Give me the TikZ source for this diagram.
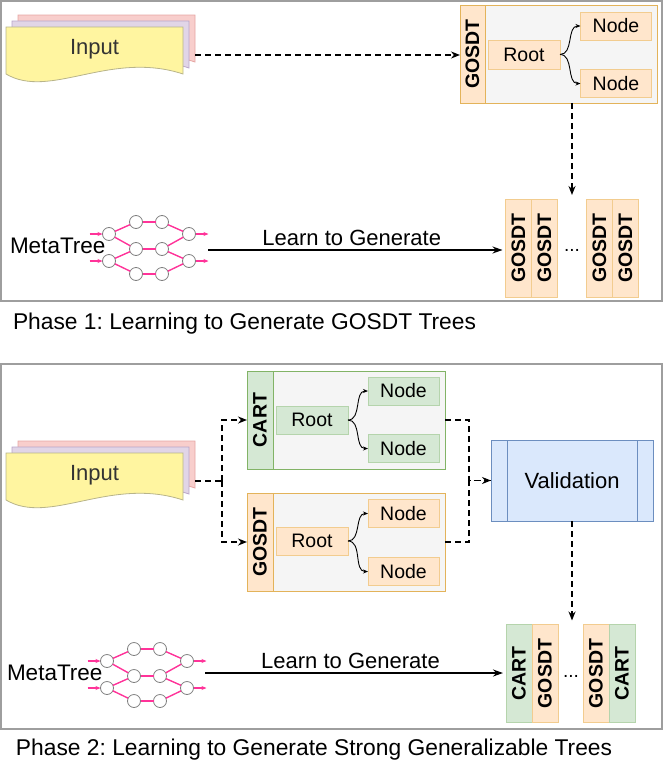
\documentclass[tikz,border=0pt]{standalone}
\usepackage{fontspec}
\setmainfont{Liberation Sans}
\usepackage{xcolor}
\definecolor{vizOrange}{HTML}{FFE6CC}
\definecolor{vizOrangeLine}{HTML}{E3B35A}
\definecolor{vizOrangeSoft}{HTML}{F2CC8F}
\definecolor{vizGreen}{HTML}{D5E8D4}
\definecolor{vizGreenLine}{HTML}{82B366}
\definecolor{vizGreenSoft}{HTML}{B5D4AC}
\definecolor{vizPanel}{HTML}{F5F5F5}
\definecolor{vizBlue}{HTML}{DAE8FC}
\definecolor{vizBlueLine}{HTML}{6C8EBF}
\definecolor{vizYellow}{HTML}{FFF5A0}
\definecolor{vizYellowLine}{HTML}{B8B48A}
\definecolor{vizPink}{HTML}{F8CECC}
\definecolor{vizPinkLine}{HTML}{E6A6A3}
\definecolor{vizPurple}{HTML}{E1D5E7}
\definecolor{vizPurpleLine}{HTML}{B9A5C9}
\definecolor{vizNet}{HTML}{FF3399}
\definecolor{vizFrame}{HTML}{9E9E9E}
\usetikzlibrary{arrows.meta}
\frenchspacing

\begin{document}
\begin{tikzpicture}[x=1pt, y=-1pt,
  every node/.style={inner sep=0pt, outer sep=0pt},
  leaf/.style={draw, minimum width=71pt, minimum height=28pt, font=\fontsize{19.5}{22}\selectfont},
  gosdtleaf/.style={leaf, fill=vizOrange, draw=vizOrangeSoft},
  cartleaf/.style={leaf, fill=vizGreen, draw=vizGreenSoft},
  treebox/.style={draw, fill=vizPanel, line width=1pt, minimum width=198pt, minimum height=98pt},
  strip/.style={draw, rotate=90, minimum width=98pt, minimum height=26pt, font=\fontsize{19.5}{22}\selectfont\bfseries},
  gosdtstrip/.style={strip, fill=vizOrange, draw=vizOrangeSoft},
  cartstrip/.style={strip, fill=vizGreen, draw=vizGreenSoft},
  branch/.style={-{Stealth[length=5pt,width=4pt]}, line width=0.9pt, out=0, in=180},
  flowline/.style={dash pattern=on 6pt off 4pt, line width=1.7pt},
  flow/.style={flowline, -{Stealth[length=9pt,width=7pt]}},
  learn/.style={line width=1.7pt, -{Stealth[length=10pt,width=7pt]}},
  neuron/.style={circle, draw=gray, fill=white, line width=0.8pt, minimum size=13pt},
  netline/.style={vizNet, line width=1.4pt},
  netarrow/.style={vizNet, line width=1.4pt, -{Stealth[length=5pt,width=4pt]}},
  frame/.style={draw=vizFrame, line width=1.3pt},
  label/.style={font=\fontsize{22}{26}\selectfont}
]
  \useasboundingbox (0,0) rectangle (664,763);
  \draw[frame] (1,1) rectangle (662,301);
  \draw[frame] (1,364) rectangle (662,729);

  % input documents
  \foreach \dy/\nm in {0/inA, 426/inB} {
    \foreach \dx/\fc/\dc in {12/vizPink/vizPinkLine, 6/vizPurple/vizPurpleLine, 0/vizYellow/vizYellowLine}
      \filldraw[fill=\fc, draw=\dc, line width=0.8pt, shift={(\dx,{\dy-\dx})}]
        (6,27) -- (183,27) -- (183,74) .. controls (110,50) and (50,100) .. (6,74) -- cycle;
    \node[label, text=black!80, anchor=base] (\nm) at (94.5,{54+\dy}) {Input};
    \coordinate (\nm-out) at (195,{55+\dy});
  }

  % metatree networks
  \foreach \pre/\sx/\sy/\bx/\by in {A/0/0/10/253, B/-2/427/7/680} {
    \node[label, font=\fontsize{22.5}{26}\selectfont, anchor=base west] (\pre-meta) at (\bx,\by) {MetaTree};
    \foreach \n/\x/\y in {1/109/234, 2/109/261, 3/136/222, 4/162/222, 5/136/249,
                          6/162/249, 7/136/274, 8/162/274, 9/189/234, 10/189/261}
      \node[neuron] (\pre\n) at ({\x+\sx},{\y+\sy}) {};
    \foreach \s/\t in {1/3, 1/5, 2/5, 2/7, 3/4, 5/6, 7/8, 4/9, 6/9, 6/10, 8/10}
      \draw[netline] (\pre\s) -- (\pre\t);
    \draw[netarrow] ([xshift=-13pt]\pre1.west) -- (\pre1);
    \draw[netarrow] ([xshift=-13pt]\pre2.west) -- (\pre2);
    \draw[netarrow] (\pre9) -- ([xshift=13pt]\pre9.east);
    \draw[netarrow] (\pre10) -- ([xshift=13pt]\pre10.east);
  }

  % phase 1
  \node[treebox, draw=vizOrangeLine, minimum width=197pt] (gboxA) at (558.5,54) {};
  \node[gosdtstrip, draw=vizOrangeLine, minimum height=25pt] (gstripA) at (472.5,54) {GOSDT};
  \node[gosdtleaf, minimum width=72pt, minimum height=29pt] (rootA) at (524,54.5) {Root};
  \node[gosdtleaf] (leafA1) at (616,26) {Node};
  \node[gosdtleaf] (leafA2) at (616,83.5) {Node};
  \draw[branch] (rootA.east) to (leafA1.west);
  \draw[branch] (rootA.east) to (leafA2.west);

  \node[gosdtstrip] (stackA1) at (518.5,248) {GOSDT};
  \node[gosdtstrip] (stackA2) at (544.5,248) {GOSDT};
  \node[gosdtstrip] (stackA3) at (599.5,248) {GOSDT};
  \node[gosdtstrip] (stackA4) at (625.5,248) {GOSDT};
  \node[font=\fontsize{19}{22}\selectfont, anchor=base] (dotsA) at (572,251) {...};

  \draw[flow] (inA-out) -- (inA-out -| gboxA.west);
  \draw[flow, shorten >=4pt] (gboxA.south -| dotsA) -- (dotsA |- stackA1.east);
  \coordinate (srcA) at (208,250);
  \draw[learn, shorten >=3pt] (srcA) -- node[label, above=4pt, xshift=-5pt] {Learn to Generate} (srcA -| stackA1.north);

  \node[label, font=\fontsize{22.8}{26}\selectfont, anchor=base west] (capA) at (13,329) {Phase 1: Learning to Generate GOSDT Trees};

  % phase 2
  \node[treebox, draw=vizGreenLine] (cboxB) at (346,420) {};
  \node[cartstrip, draw=vizGreenLine] (cstripB) at (260,420) {CART};
  \node[cartleaf, minimum width=72pt] (crootB) at (312,420) {Root};
  \node[cartleaf] (cleafB1) at (403.5,391) {Node};
  \node[cartleaf] (cleafB2) at (403.5,448.5) {Node};
  \draw[branch] (crootB.east) to (cleafB1.west);
  \draw[branch] (crootB.east) to (cleafB2.west);

  \node[treebox, draw=vizOrangeLine] (gboxB) at (346,542) {};
  \node[gosdtstrip, draw=vizOrangeLine] (gstripB) at (260,542) {GOSDT};
  \node[gosdtleaf, minimum width=72pt] (grootB) at (312,541) {Root};
  \node[gosdtleaf] (gleafB1) at (403.5,513.5) {Node};
  \node[gosdtleaf] (gleafB2) at (403.5,571.5) {Node};
  \draw[branch] (grootB.east) to (gleafB1.west);
  \draw[branch] (grootB.east) to (gleafB2.west);

  \node[draw=vizBlueLine, fill=vizBlue, line width=1pt, minimum width=162pt, minimum height=81pt, label, xshift=-3pt, text depth=0pt] (val) at (575,480.5) {Validation};
  \draw[draw=vizBlueLine, line width=1pt] ([xshift=16pt]val.north west) -- ([xshift=16pt]val.south west);
  \draw[draw=vizBlueLine, line width=1pt] ([xshift=-16pt]val.north east) -- ([xshift=-16pt]val.south east);

  \node[cartstrip] (stackB1) at (519,673.5) {CART};
  \node[gosdtstrip] (stackB2) at (545,673.5) {GOSDT};
  \node[gosdtstrip] (stackB3) at (596,673.5) {GOSDT};
  \node[cartstrip] (stackB4) at (622,673.5) {CART};
  \node[font=\fontsize{19}{22}\selectfont, anchor=base] (dotsB) at (571,677) {...};

  \coordinate (split) at (222,481);
  \draw[flowline] (inB-out) -- (split);
  \draw[flow] (split) |- (cboxB.west);
  \draw[flow] (split) |- (gboxB.west);
  \draw[flowline] (cboxB.east) -- ++(24,0) |- (val.west);
  \draw[flow] (gboxB.east) -- ++(24,0) |- (val.west);
  \draw[flow, shorten >=4pt] (val.south) -- (val.south |- stackB1.east);
  \coordinate (srcB) at (205,673);
  \draw[learn, shorten >=3pt] (srcB) -- node[label, above=4pt, xshift=-5pt] {Learn to Generate} (srcB -| stackB1.north);

  \node[label, font=\fontsize{22.8}{26}\selectfont, anchor=base west] (capB) at (16,755) {Phase 2: Learning to Generate Strong Generalizable Trees};
\end{tikzpicture}
\end{document}
